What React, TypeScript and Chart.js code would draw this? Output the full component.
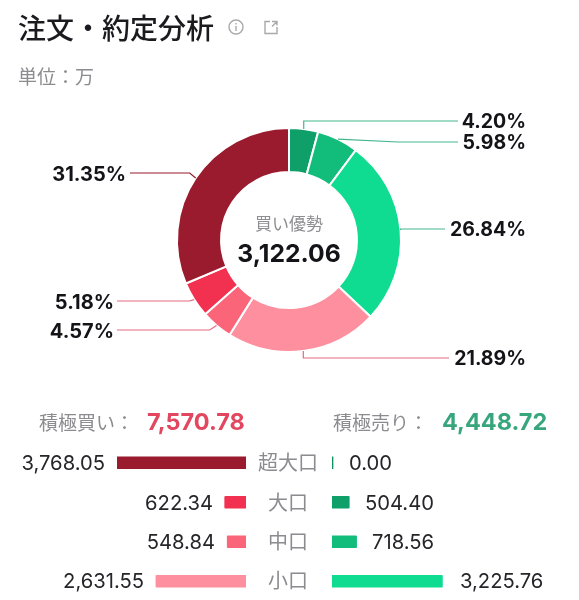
import React, { useEffect, useRef } from "react";
import { Chart, registerables } from "chart.js";

Chart.register(...registerables);

const sliceNames = ["大口売り", "中口売り", "小口売り", "小口買い", "中口買い", "大口買い", "超大口買い"];
const sliceValues = [504.4, 718.56, 3225.76, 2631.55, 548.84, 622.34, 3768.05];
const slicePercents = ["4.20%", "5.98%", "26.84%", "21.89%", "4.57%", "5.18%", "31.35%"];
const sliceColors = ["#0f9f68", "#12bd7c", "#10dc91", "#fe8f9f", "#fb6579", "#f2304f", "#9a1a2e"];
const leaderColors = ["#45b58c", "#45b58c", "#45b58c", "#e56a7f", "#e56a7f", "#e56a7f", "#9a1a2e"];

const rowLabels = ["超大口", "大口", "中口", "小口"];
const buyValues = [3768.05, 622.34, 548.84, 2631.55];
const sellValues = [0, 504.4, 718.56, 3225.76];
const buyText = ["3,768.05", "622.34", "548.84", "2,631.55"];
const sellText = ["0.00", "504.40", "718.56", "3,225.76"];
const buyColors = ["#9a1a2e", "#f2304f", "#fb6579", "#fe8f9f"];
const sellColors = ["#0c8f5c", "#0f9f68", "#12bd7c", "#10dc91"];

const title = "注文・約定分析";
const unit = "単位\uFF1A万";
const centerLabel = "買い優勢";
const centerValue = "3,122.06";
const buyTotalLabel = "積極買い\uFF1A";
const buyTotal = "7,570.78";
const sellTotalLabel = "積極売り\uFF1A";
const sellTotal = "4,448.72";

// leader-line layout per slice: label row y, line end x, elbow offset from the slice edge
const leaderY = [121, 142, 229, 358, 330, 301, 173];
const leaderEndX = [458, 458, 445, 449, 117, 117, 130];
const elbowDx = [0, 60, 0, 0, -7, -5, -6];

const SANS = 'Inter, "Noto Sans CJK JP", sans-serif';
const CJK = '"Noto Sans CJK JP", sans-serif';

const leaderPlugin = {
  id: "leaders",
  afterDatasetsDraw(chart: any) {
    const ctx = chart.ctx;
    chart.getDatasetMeta(0).data.forEach((arc: any, i: number) => {
      const p = arc.getProps(["x", "y", "startAngle", "endAngle", "outerRadius"], true);
      const a = (p.startAngle + p.endAngle) / 2;
      const ax = p.x + Math.cos(a) * p.outerRadius;
      const ay = p.y + Math.sin(a) * p.outerRadius;
      ctx.save();
      ctx.strokeStyle = leaderColors[i];
      ctx.lineWidth = 1.2;
      ctx.beginPath();
      ctx.moveTo(ax, ay);
      ctx.lineTo(ax + elbowDx[i], leaderY[i]);
      ctx.lineTo(leaderEndX[i], leaderY[i]);
      ctx.stroke();
      ctx.restore();
    });
  },
};

function makeBars(canvas: HTMLCanvasElement, values: number[], colors: string[], max: number, reverse: boolean) {
  return new Chart(canvas, {
    type: "bar",
    data: {
      labels: rowLabels,
      datasets: [{
        data: values,
        backgroundColor: colors,
        barThickness: 12,
        minBarLength: 1,
        borderRadius: 1,
        borderSkipped: false,
      }],
    },
    options: {
      indexAxis: "y",
      animation: false,
      responsive: false,
      maintainAspectRatio: false,
      layout: { padding: 0 },
      plugins: { legend: { display: false }, tooltip: { enabled: false } },
      scales: {
        x: { display: false, min: 0, max, reverse },
        y: { display: false },
      },
    },
  } as any);
}

type TP = { x: number; y: number; align?: "left" | "right" | "center"; size: number; weight?: number; color: string; font?: string; children: React.ReactNode };

function T({ x, y, align = "left", size, weight = 400, color, font = SANS, children }: TP) {
  const tx = align === "left" ? "0" : align === "right" ? "-100%" : "-50%";
  return (
    <div style={{
      position: "absolute", left: x, top: y, transform: `translate(${tx}, -50%)`,
      fontFamily: font, fontSize: size, fontWeight: weight, color, whiteSpace: "nowrap", lineHeight: 1,
    }}>{children}</div>
  );
}

const labelRightX = [526, 526, 526, 526, 114, 114, 126];
const labelSize = [19.5, 19.5, 19.5, 19.5, 20, 20, 20];
const rowY = [462, 502, 541, 580];
const buyRightX = [105, 213, 215, 144];
const sellLeftX = [349, 365, 372, 460];

export default function App() {
  const pie = useRef<HTMLCanvasElement>(null);
  const left = useRef<HTMLCanvasElement>(null);
  const right = useRef<HTMLCanvasElement>(null);

  useEffect(() => {
    document.body.style.margin = "0";
    document.body.style.background = "#fff";
    const c1 = new Chart(pie.current!, {
      type: "doughnut",
      data: {
        labels: sliceNames,
        datasets: [{
          data: sliceValues,
          backgroundColor: sliceColors,
          borderColor: "#ffffff",
          borderWidth: 2,
        }],
      },
      options: {
        animation: false,
        responsive: false,
        maintainAspectRatio: false,
        radius: 112,
        cutout: "60.7%",
        layout: { padding: 0 },
        plugins: { legend: { display: false }, tooltip: { enabled: false } },
      },
      plugins: [leaderPlugin],
    } as any);
    const c2 = makeBars(left.current!, buyValues, buyColors, 3768.05, true);
    const c3 = makeBars(right.current!, sellValues, sellColors, 3768.05, false);
    return () => { c1.destroy(); c2.destroy(); c3.destroy(); };
  }, []);

  return (
    <div style={{ position: "absolute", left: 0, top: 0, width: 579, height: 600, overflow: "hidden", background: "#fff" }}>
      <canvas ref={pie} width={578} height={480} style={{ position: "absolute", left: 0, top: 0, display: "block" }} />
      <canvas ref={left} width={129} height={158} style={{ position: "absolute", left: 117, top: 443, display: "block" }} />
      <canvas ref={right} width={129} height={158} style={{ position: "absolute", left: 332, top: 443, display: "block" }} />

      <T x={18} y={27} size={28} weight={500} color="#1b1b1f" font={CJK}>{title}</T>
      <svg width="18" height="18" viewBox="0 0 18 18" style={{ position: "absolute", left: 227, top: 18 }} fill="none" stroke="#a9a9ad" strokeWidth="1.4">
        <circle cx="9" cy="9" r="7" />
        <path d="M9 8v5M9 5v1.5" />
      </svg>
      <svg width="18" height="18" viewBox="0 0 18 18" style={{ position: "absolute", left: 262, top: 18 }} fill="none" stroke="#a9a9ad" strokeWidth="1.4">
        <path d="M8 3.5H3v12h12V9M10 3.5h5v4M15 3.5l-5 5" />
      </svg>
      <T x={18} y={75} size={19} color="#8c8c90" font={CJK}>{unit}</T>

      <T x={289} y={222} align="center" size={17} color="#8e8e92" font={CJK}>{centerLabel}</T>
      <T x={289} y={253} align="center" size={24.7} weight={700} color="#141418">{centerValue}</T>

      {slicePercents.map((s, i) => (
        <T key={s} x={labelRightX[i]} y={leaderY[i] + 1} align="right" size={labelSize[i]} weight={700} color="#141418">{s}</T>
      ))}

      <T x={39} y={421} size={19} color="#8c8c90" font={CJK}>{buyTotalLabel}</T>
      <T x={147} y={422} size={23.5} weight={700} color="#e2475f">{buyTotal}</T>
      <T x={333} y={421} size={19} color="#8c8c90" font={CJK}>{sellTotalLabel}</T>
      <T x={442} y={422} size={23.5} weight={700} color="#38a67d">{sellTotal}</T>

      {rowLabels.map((r, i) => (
        <React.Fragment key={r}>
          <T x={buyRightX[i]} y={rowY[i] + 1} align="right" size={20.2} color="#26262a">{buyText[i]}</T>
          <T x={288} y={rowY[i]} align="center" size={20} color="#8c8c90" font={CJK}>{r}</T>
          <T x={sellLeftX[i]} y={rowY[i] + 1} size={20.2} color="#26262a">{sellText[i]}</T>
        </React.Fragment>
      ))}
    </div>
  );
}
